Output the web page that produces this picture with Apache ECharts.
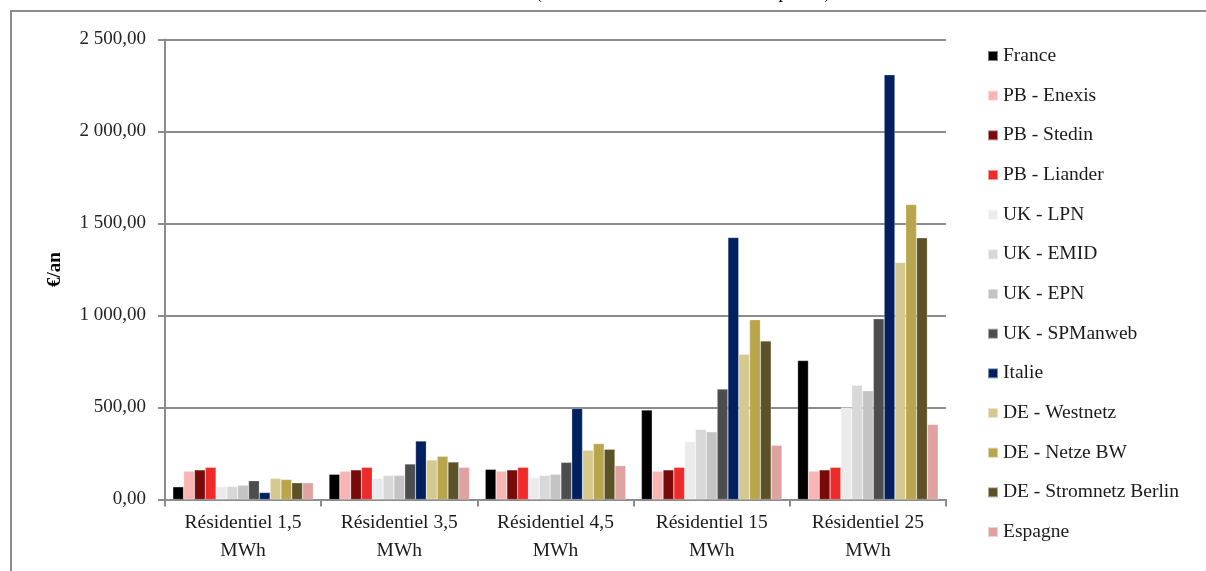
<!DOCTYPE html>
<html>
<head>
<meta charset="utf-8">
<script src="https://cdn.jsdelivr.net/npm/echarts@6/dist/echarts.min.js"></script>
<style>
html,body{margin:0;padding:0;background:#fff;}
#chart{width:1206px;height:571px;}
</style>
</head>
<body>
<div id="chart"></div>
<script>
const categories = ["Résidentiel 1,5\nMWh", "Résidentiel 3,5\nMWh", "Résidentiel 4,5\nMWh", "Résidentiel 15\nMWh", "Résidentiel 25\nMWh"];
const seriesNames = ["France", "PB - Enexis", "PB - Stedin", "PB - Liander", "UK - LPN", "UK - EMID", "UK - EPN", "UK - SPManweb", "Italie", "DE - Westnetz", "DE - Netze BW", "DE - Stromnetz Berlin", "Espagne"];
const france = [69, 137, 164, 486, 755];
const pbEnexis = [154, 154, 154, 154, 154];
const pbStedin = [161, 161, 161, 161, 161];
const pbLiander = [175, 175, 175, 175, 175];
const ukLpn = [70, 115, 118, 315, 500];
const ukEmid = [71, 131, 131, 381, 621];
const ukEpn = [78, 131, 137, 368, 591];
const ukSpmanweb = [102, 193, 202, 600, 982];
const italie = [38, 318, 495, 1424, 2308];
const deWestnetz = [115, 215, 268, 790, 1288];
const deNetzeBw = [109, 235, 304, 977, 1603];
const deBerlin = [91, 204, 273, 862, 1422];
const espagne = [91, 175, 184, 295, 408];
const yTicks = [0, 500, 1000, 1500, 2000, 2500];
const titleText = "(Tarifs de réseau hors taxes en € par an)";

const seriesData = [france, pbEnexis, pbStedin, pbLiander, ukLpn, ukEmid, ukEpn, ukSpmanweb, italie, deWestnetz, deNetzeBw, deBerlin, espagne];
const colors = ["#000000", "#F9B4B4", "#780A0A", "#EE2A2A", "#EBEBEB", "#D8D8D8", "#C4C4C4", "#4D4D4D", "#002060", "#D5C990", "#B9A54B", "#5C5127", "#E0A1A1"];

const FONT = "Liberation Serif";
function fmt(v){
  const s = v.toFixed(2).replace('.', ',');
  const parts = s.split(',');
  parts[0] = parts[0].replace(/\B(?=(\d{3})+(?!\d))/g, ' ');
  return parts.join(',');
}

const chart = echarts.init(document.getElementById('chart'), null, {renderer: 'canvas'});
chart.setOption({
  animation: false,
  color: colors,
  textStyle: {fontFamily: FONT},
  graphic: [
    {type: 'rect', shape: {x: 11, y: 11, width: 1400, height: 800}, style: {fill: 'none', stroke: '#8c8c8c', lineWidth: 2}, silent: true},
    {type: 'text', x: 683, y: 3, style: {text: titleText, fontFamily: FONT, fontSize: 18.5, fill: '#000', align: 'center', verticalAlign: 'bottom'}, silent: true}
  ],
  legend: {
    orient: 'vertical',
    left: 987,
    top: 46,
    padding: 0,
    itemWidth: 10,
    itemHeight: 10,
    itemGap: 19.67,
    icon: 'rect',
    data: seriesNames,
    textStyle: {fontFamily: FONT, fontSize: 19.5, color: '#1a1a1a', lineHeight: 20}
  },
  grid: {left: 165, right: 260, top: 39.5, bottom: 71.5, containLabel: false},
  xAxis: {
    type: 'category',
    data: categories,
    axisLine: {lineStyle: {color: '#8c8c8c', width: 2}},
    axisTick: {show: true, length: 7, lineStyle: {color: '#8c8c8c', width: 2}},
    axisLabel: {fontFamily: FONT, fontSize: 19.5, color: '#1a1a1a', lineHeight: 28, margin: 9, interval: 0}
  },
  yAxis: {
    type: 'value',
    min: yTicks[0],
    max: yTicks[yTicks.length - 1],
    interval: 500,
    name: '€/an',
    nameLocation: 'middle',
    nameRotate: 90,
    nameGap: 100,
    nameTextStyle: {fontFamily: FONT, fontSize: 19, fontWeight: 'bold', color: '#000'},
    axisLine: {show: true, lineStyle: {color: '#8c8c8c', width: 2}},
    axisTick: {show: true, length: 7, lineStyle: {color: '#8c8c8c', width: 2}},
    splitLine: {show: true, lineStyle: {color: '#8c8c8c', width: 2}},
    axisLabel: {fontFamily: FONT, fontSize: 19, color: '#222', margin: 19, formatter: fmt}
  },
  series: seriesNames.map((n, i) => ({
    name: n,
    type: 'bar',
    data: seriesData[i],
    barGap: '0%',
    barCategoryGap: '10%',
    itemStyle: {borderColor: 'rgba(255,255,255,0.5)', borderWidth: 0.5}
  }))
});
</script>
</body>
</html>
